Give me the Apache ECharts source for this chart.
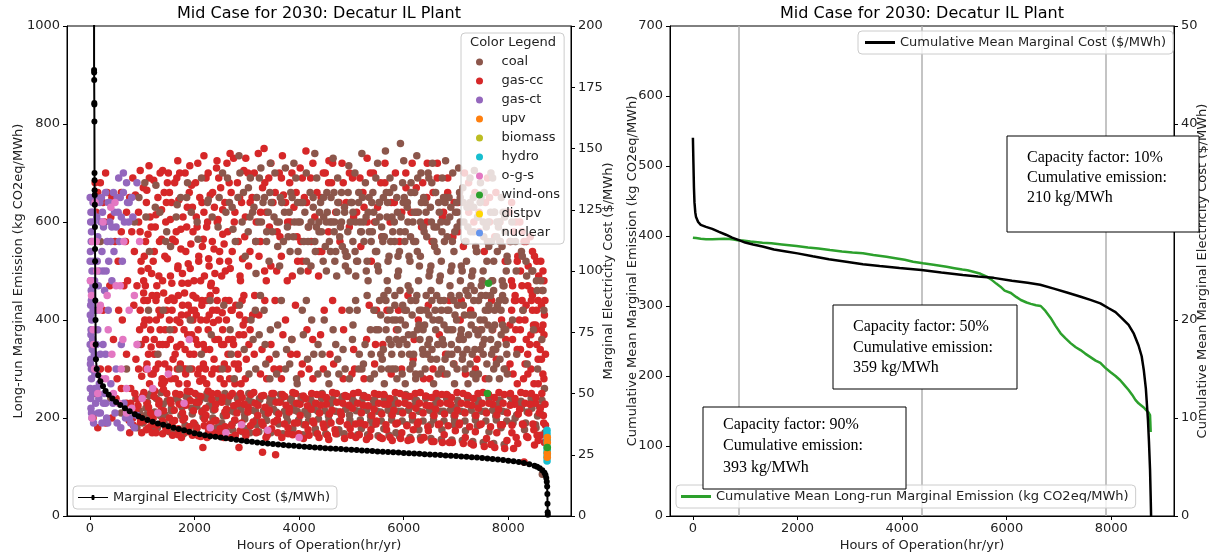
<!DOCTYPE html>
<html><head><meta charset="utf-8">
<script src="https://cdn.jsdelivr.net/npm/echarts@6/dist/echarts.min.js"></script>
<style>html,body{margin:0;padding:0;background:#fff}#c{width:1212px;height:556px}</style>
</head><body><div id="c"></div>
<script>
// ---------- DATA ----------
const hourTicks = [0, 2000, 4000, 6000, 8000];
const titleText = 'Mid Case for 2030: Decatur IL Plant';
const techNames = ['coal','gas-cc','gas-ct','upv','biomass','hydro','o-g-s','wind-ons','distpv','nuclear'];

const gasCC = [
[150,660],[300,700],[250,640],[400,610],[500,650],[600,580],[700,620],[650,470],[550,420],[450,360],[350,300],[600,260],[700,230],[750,195],[500,240],[300,190],[200,300],[100,680],[60,200],[80,250],
[820,690],[870,655],[930,620],[960,580],[850,540],[980,500],[900,470],[840,430],[950,380],[880,320],[990,285],[860,250],[920,225],[970,200],[830,185],[990,170],
[1020,670],[1080,640],[1150,610],[1110,575],[1040,530],[1180,495],[1060,470],[1100,440],[1030,390],[1170,345],[1070,300],[1140,270],[1010,245],[1090,230],[1160,210],[1050,195],[1120,180],[1190,170],
[1220,685],[1300,650],[1370,625],[1250,590],[1330,560],[1210,520],[1390,480],[1280,450],[1350,410],[1230,360],[1310,310],[1380,280],[1240,255],[1320,235],[1360,215],[1210,200],[1280,185],[1390,168],
[1420,660],[1500,700],[1560,640],[1450,600],[1580,565],[1480,525],[1540,490],[1410,455],[1520,400],[1460,350],[1590,320],[1430,275],[1470,250],[1550,230],[1410,215],[1520,200],[1450,180],[1580,165],
[1620,680],[1700,645],[1780,610],[1650,580],[1740,545],[1680,505],[1760,475],[1610,440],[1720,395],[1660,345],[1790,300],[1700,270],[1640,250],[1710,228],[1770,210],[1620,195],[1690,178],[1750,160],
[1820,700],[1900,660],[1960,630],[1850,590],[1930,555],[1880,515],[1990,480],[1810,455],[1940,420],[1870,370],[1990,330],[1830,290],[1860,255],[1920,235],[1980,215],[1810,200],[1900,182],[1960,165],
[2020,680],[2100,650],[2180,620],[2050,590],[2150,550],[2080,520],[2190,490],[2030,445],[2120,400],[2060,350],[2170,310],[2100,275],[2010,250],[2080,232],[2140,212],[2190,198],[2050,180],[2120,162],[2160,140],
[2220,690],[2300,655],[2380,630],[2250,600],[2340,560],[2270,525],[2390,495],[2310,470],[2230,440],[2360,395],[2290,340],[2210,300],[2260,255],[2330,238],[2390,218],[2220,205],[2300,188],[2370,170],[2240,160],
[2420,710],[2500,670],[2580,640],[2450,605],[2540,575],[2480,540],[2590,500],[2410,460],[2530,415],[2460,360],[2570,310],[2440,250],[2520,232],[2580,212],[2410,195],[2490,178],[2560,160],
[2620,720],[2700,660],[2760,600],[2650,520],[2720,420],[2640,330],[2680,245],[2750,225],[2610,205],[2710,185],[2780,165],
[2820,680],[2900,640],[2960,570],[2870,490],[2930,390],[2840,300],[2880,250],[2950,228],[2810,210],[2900,190],[2980,170],[2850,140],
[3020,700],[3100,650],[3180,600],[3060,540],[3150,450],[3040,350],[3080,248],[3160,230],[3020,212],[3120,192],[3190,172],
[3220,740],[3300,670],[3370,620],[3260,560],[3340,500],[3230,410],[3380,280],[3280,245],[3350,222],[3210,205],[3310,185],[3390,165],[3300,130],
[3420,690],[3500,640],[3580,580],[3460,510],[3540,440],[3430,320],[3480,250],[3560,232],[3410,210],[3520,192],[3590,170],[3550,125],
[3620,700],[3700,655],[3780,600],[3660,530],[3740,400],[3630,300],[3680,248],[3750,226],[3610,208],[3720,188],[3790,168],
[3820,680],[3900,630],[3960,570],[3870,490],[3930,430],[3840,330],[3880,252],[3950,230],[3810,212],[3910,190],[3990,168],
[4020,710],[4100,650],[4180,590],[4060,520],[4150,380],[4040,290],[4080,245],[4160,225],[4020,205],[4120,186],[4190,165],
[4220,690],[4300,610],[4380,540],[4260,360],[4240,250],[4320,230],[4390,210],[4280,190],[4350,168],
[4420,650],[4500,700],[4560,580],[4480,420],[4440,248],[4520,228],[4580,208],[4460,188],[4540,165],
[4620,680],[4700,620],[4780,560],[4660,310],[4640,252],[4720,232],[4790,212],[4610,190],[4700,168],
[4820,720],[4900,640],[4960,590],[4850,380],[4880,246],[4950,226],[4810,206],[4920,186],[4990,165],
[5020,690],[5100,620],[5180,550],[5060,300],[5040,250],[5120,230],[5190,210],[5080,188],[5150,166],
[5220,660],[5300,600],[5380,520],[5340,430],[5240,245],[5320,225],[5390,205],[5260,186],[5350,162],
[5420,700],[5500,630],[5580,570],[5460,350],[5440,250],[5520,230],[5580,208],[5470,188],[5550,160],
[5640,680],[5740,600],[5680,420],[5760,290],[5620,248],[5700,228],[5780,206],[5660,186],[5740,160],
[5820,640],[5920,560],[5860,380],[5960,300],[5840,252],[5900,230],[5980,210],[5850,188],[5940,158],
[6040,700],[6140,620],[6080,450],[6180,320],[6020,246],[6100,226],[6170,205],[6060,184],[6140,156],
[6240,670],[6340,590],[6280,400],[6380,280],[6220,250],[6300,230],[6370,210],[6260,188],[6330,155],
[6440,650],[6540,560],[6470,430],[6560,300],[6420,245],[6500,225],[6580,205],[6460,182],[6540,152],
[6640,690],[6740,610],[6680,370],[6770,290],[6620,250],[6700,230],[6780,208],[6660,186],[6740,150],
[6840,660],[6940,570],[6870,440],[6960,310],[6820,248],[6900,228],[6980,206],[6850,184],[6930,150],
[7040,640],[7140,550],[7080,400],[7180,290],[7020,252],[7100,230],[7170,210],[7060,186],[7140,148],
[7240,680],[7340,600],[7280,420],[7370,300],[7220,246],[7300,226],[7380,205],[7260,182],[7330,145],
[7440,620],[7540,540],[7470,380],[7560,280],[7420,250],[7500,230],[7580,210],[7460,186],[7540,142],
[7640,650],[7740,570],[7680,440],[7770,320],[7620,248],[7700,228],[7780,206],[7660,182],[7740,140],
[7840,600],[7940,520],[7870,400],[7960,300],[7820,252],[7900,230],[7980,210],[7850,186],[7930,138],
[8020,620],[8100,580],[8180,530],[8060,480],[8140,440],[8030,390],[8170,340],[8090,290],[8040,250],[8120,228],[8190,208],[8070,185],[8150,160],[8100,138],
[8220,600],[8300,560],[8380,510],[8260,470],[8340,430],[8230,380],[8370,330],[8290,280],[8240,252],[8320,230],[8390,210],[8270,188],[8350,162],[8300,110],
[8420,570],[8500,530],[8580,490],[8460,450],[8540,420],[8430,370],[8570,320],[8490,270],[8440,250],[8520,230],[8590,210],[8470,188],[8550,165],[8500,145],
[8620,520],[8680,480],[8700,440],[8650,460],[8690,410],[8630,380],[8710,330],[8660,290],[8640,250],[8700,228],[8670,205],[8710,185],[8620,165],[8690,150]
];
const gasCCLeft = [[120,620],[200,680],[280,600],[330,660],[420,650],[480,560],[540,520],[600,660],[680,560],[720,480],[760,650],[800,580],[250,420],[380,470],[620,400],[700,330],[780,260],[520,280],[420,200],[150,180],[820,200],[780,230],[880,215],[760,170]];
const gasCCUpper2 = [
[962,705],[931,600],[978,520],[1064,560],[1027,480],[1088,665],[1136,690],[1171,590],[1112,505],[1263,615],[1231,540],[1279,470],[1342,700],[1371,565],[1318,490],[1462,640],[1433,530],[1481,680],[1537,605],[1566,475],[1521,660],[1661,690],[1632,560],[1684,510],[1738,585],[1769,495],[1716,700],[1862,630],[1833,540],[1877,475],[1944,675],[1971,580],[1918,505],[2063,720],[2034,610],[2081,530],[2142,640],[2168,565],[2117,480],[2261,700],[2232,590],[2279,510],[2346,660],[2373,545],[2321,475],[2463,690],[2434,600],[2481,520],[2538,625],[2566,555],[2519,490],[2662,680],[2634,580],[2683,505],[2747,730],[2772,620],[2721,540],[2861,650],[2836,560],[2879,480],[2944,705],[2972,610],[2918,525],
[3063,640],[3034,510],[3142,700],[3171,560],[3261,620],[3233,530],[3344,680],[3372,480],[3461,720],[3432,590],[3543,660],[3571,500],[3662,690],[3634,570],[3741,640],[3773,480],[3862,700],[3831,600],[3943,660],[3972,520],[4061,690],[4033,560],[4142,640],[4171,500],[4263,720],[4231,560],[4341,660],[4372,490],[4462,700],[4433,540],
[4563,680],[4641,720],[4762,640],[4843,680],[4961,700],[5042,610],[5163,690],[5241,630],[5362,700],[5443,600],[5561,680],[5642,720],[5763,640],[5841,700],[5962,620],[6043,670],[6161,720],[6242,620],[6363,680],[6441,600],[6562,660],[6643,720],[6761,620],[6842,690],[6963,640],[7041,580],[7162,700],[7243,620],[7361,660],[7442,580],[7563,640],[7641,600],[7762,660],[7843,560],[7961,620],
[8063,640],[8032,560],[8081,470],[8142,600],[8171,520],[8118,440],[8263,580],[8232,500],[8281,420],[8342,560],[8373,470],[8318,400],[8462,540],[8433,460],[8481,390],[8543,520],[8571,440],[8518,380],[8662,500],[8633,430],[8681,370]
];
const gasCCTop = [[1130,715],[1390,705],[1680,725],[1910,715],[2180,735],[2430,725],[2680,740],[2980,730],[3330,750],[3680,735],[4130,745],[4570,725],[5300,730],[6450,720],[7600,690]];
const gasCCMiddle2 = [
[962,420],[931,300],[1064,360],[1027,455],[1136,400],[1171,290],[1263,440],[1231,330],[1342,380],[1371,270],[1462,420],[1433,310],[1537,360],[1566,445],[1661,400],[1632,280],[1738,350],[1769,430],[1862,410],[1833,300],[1944,370],[1971,450],[2063,290],[2034,410],[2142,440],[2168,350],[2261,380],[2232,270],[2346,420],[2373,320],[2463,300],[2434,440],[2538,380],[2566,270],[2662,440],[2634,300],[2747,350],[2772,270],[2861,410],[2836,310],[2944,450],[2972,280],
[3063,380],[3142,330],[3261,290],[3344,440],[3461,350],[3662,280],[3862,360],[4061,310],[4263,280],[4462,300],[4641,440],[4843,280],[5042,340],[5241,280],[5443,310],
[8063,420],[8032,310],[8142,380],[8171,270],[8263,440],[8232,340],[8342,360],[8373,290],[8462,420],[8433,300],[8543,350],[8571,270],[8662,390],[8633,320]
];
const gasCCMiddle3 = [
[980,350],[1030,440],[1090,310],[1160,380],[1210,290],[1270,400],[1330,350],[1400,270],[1440,380],[1510,300],[1570,420],[1630,330],[1690,450],[1730,310],[1800,380],[1860,270],[1910,330],[1970,400],[2020,360],[2090,300],[2140,430],[2200,340],[2280,410],[2330,290],[2390,360],[2430,420],[2490,280],[2560,350],[2610,400],[2670,280],[2730,360],[2790,430],[2830,330],[2890,270],[2940,370],[2990,320],
[3110,410],[3290,340],[3520,300],[3690,370],[3960,330],[4190,300],[4410,370],[4590,330],[4820,420],[5010,290],[5290,360],[5480,420],
[5600,350],[5900,420],[6200,360],[6500,280],[6800,330],[7100,440],[7400,320],[7700,380],[7950,360],
[8080,360],[8210,400],[8320,310],[8410,350],[8520,390],[8610,340],[8680,280],[8130,450],[8440,440]
];
const gasCCMiddle4 = [[1050,400],[1120,330],[1190,450],[1260,300],[1320,420],[1390,350],[1490,440],[1550,280],[1610,380],[1670,300],[1750,410],[1820,340],[1880,430],[1950,300],[2000,420],[2070,380],[2160,280],[2230,400],[2300,450],[2370,300],[2460,400],[2520,350],[2590,440],[2650,360],[2700,420],[2760,310],[2850,370],[2910,440],[2970,400]];
const gasCCLower2 = [
[915,238],[968,192],[1032,252],[1078,176],[1121,222],[1183,186],[1226,244],[1262,170],[1318,228],[1386,194],[1407,258],[1471,174],[1534,236],[1569,188],[1612,216],[1688,166],[1723,248],[1779,196],[1836,226],[1861,172],[1918,254],[1984,190],[2027,232],[2073,164],[2119,244],[2186,184],[2213,220],[2268,172],[2331,250],[2377,194],[2405,228],[2462,166],[2538,242],[2584,182],[2611,218],[2679,160],[2722,250],[2768,196],[2837,230],[2873,174],[2912,242],[2981,164],[3026,222],[3072,184],[3133,252],[3178,170],[3215,226],[3283,192],[3321,246],[3367,160],[3428,216],[3474,178],[3512,250],[3586,196],[3633,232],[3669,160],[3725,244],[3788,180],[3812,220],[3876,166],[3931,250],[3965,190],[4017,228],[4083,158],[4124,240],[4171,176],[4229,218],[4264,194],[4338,248],[4381,160],[4412,226],[4477,180],[4521,242],[4566,156],[4628,216],[4685,176],[4713,250],[4789,194],[4835,230],[4868,158],[4922,244],[4976,178],[5018,220],[5084,160],[5131,252],[5169,190],[5224,226],[5287,156],[5315,242],[5372,176],[5433,218],[5478,194],[5521,248],[5589,158],[5627,228],[5671,176],[5736,240],[5781,154],[5812,216],[5879,190],[5928,250],[5963,170],[6024,230],[6081,154],[6117,244],[6182,176],[6233,220],[6279,192],[6316,252],[6388,160],[6425,226],[6471,174],[6533,242],[6579,152],[6611,218],[6683,188],[6728,248],[6774,166],[6835,230],[6872,150],[6913,242],[6987,174],[7026,216],[7068,190],[7134,250],[7177,160],[7215,228],[7286,148],[7332,240],[7369,172],[7424,220],[7481,188],[7516,252],[7583,158],[7627,230],[7668,146],[7731,242],[7779,170],[7814,218],[7887,186],[7922,248],[7973,154],[8035,226],[8068,170],[8127,240],[8181,148],[8216,218],[8283,186],[8331,250],[8372,160],[8418,228],[8487,176],[8526,242],[8571,154],[8612,220],[8676,190]
];

const coal = [
[80,650],[200,560],[400,240],[600,210],[700,300],
[850,600],[920,350],[880,240],[950,210],[900,180],
[1050,680],[1120,420],[1070,220],[1130,200],[1170,250],
[1250,630],[1300,330],[1270,240],[1340,205],[1230,175],
[1450,560],[1530,380],[1480,235],[1560,215],[1420,190],
[1650,610],[1710,300],[1680,245],[1740,205],[1630,175],
[1850,650],[1920,400],[1880,240],[1950,220],[1820,185],
[2050,600],[2130,330],[2070,245],[2150,215],[2030,175],
[2250,640],[2320,370],[2280,225],[2350,200],[2230,240],
[2450,590],[2530,300],[2470,240],[2550,205],[2430,180],
[2600,620],[2560,430],[2580,250],[2520,190],[2600,175],
[2630,690],[2720,630],[2780,560],[2680,380],[2760,280],[2640,238],[2700,215],[2770,195],[2730,175],
[2830,650],[2910,600],[2970,530],[2860,430],[2950,340],[2820,240],[2890,218],[2960,198],[2920,172],
[3030,670],[3110,620],[3170,560],[3080,400],[3170,300],[3040,236],[3100,216],[3180,196],[3060,170],
[3240,690],[3310,640],[3380,580],[3260,450],[3350,350],[3250,238],[3320,215],[3380,195],[3230,172],
[3440,660],[3520,610],[3590,550],[3450,380],[3570,290],[3440,240],[3510,218],[3580,196],[3460,170],
[3640,650],[3720,620],[3790,570],[3660,440],[3760,340],[3650,236],[3720,214],[3780,194],[3690,168],
[3840,660],[3910,600],[3980,540],[3860,360],[3950,280],[3850,240],[3920,216],[3990,196],[3870,168],
[4030,640],[4110,620],[4170,560],[4060,420],[4160,320],[4040,236],[4110,214],[4180,194],[4070,166],
[4210,660],[4270,630],[4330,590],[4390,620],[4300,560],[4240,400],[4360,290],[4220,238],[4290,218],[4370,198],[4320,170],
[4410,640],[4470,610],[4530,660],[4590,600],[4500,550],[4440,330],[4570,270],[4430,240],[4490,215],[4570,195],[4510,168],
[4610,650],[4680,600],[4740,640],[4790,590],[4700,540],[4650,380],[4760,290],[4620,236],[4690,214],[4770,194],[4730,168],
[4810,660],[4870,620],[4930,580],[4990,640],[4900,530],[4840,340],[4960,280],[4820,240],[4890,218],[4970,196],[4860,168],
[5010,640],[5080,600],[5140,660],[5190,580],[5100,520],[5030,390],[5150,330],[5020,238],[5090,215],[5170,196],[5120,166],
[5210,650],[5280,610],[5340,580],[5390,640],[5300,520],[5230,310],[5360,280],[5220,240],[5290,216],[5370,195],[5310,166],
[5410,660],[5470,600],[5530,640],[5590,570],[5500,510],[5430,420],[5560,330],[5420,236],[5490,214],[5570,194],[5510,164],
[5610,650],[5680,610],[5730,660],[5790,580],[5700,520],[5620,450],[5690,400],[5760,350],[5710,300],[5630,240],[5700,216],[5770,196],[5720,165],
[5810,670],[5880,620],[5930,580],[5990,640],[5900,500],[5830,430],[5890,380],[5960,330],[5870,280],[5820,238],[5890,214],[5970,194],[5920,162],
[6010,650],[6080,600],[6140,680],[6190,560],[6100,530],[6020,420],[6090,370],[6160,410],[6120,300],[6030,240],[6090,216],[6170,196],[6120,160],
[6210,660],[6280,620],[6330,700],[6390,580],[6300,510],[6230,440],[6290,390],[6360,340],[6320,290],[6220,236],[6290,214],[6370,194],[6320,160],
[6410,640],[6480,690],[6530,600],[6590,550],[6500,500],[6430,420],[6490,360],[6560,400],[6520,320],[6420,240],[6490,216],[6570,196],[6520,158],
[6610,660],[6680,620],[6730,580],[6790,640],[6700,490],[6630,450],[6690,400],[6760,350],[6720,300],[6630,238],[6700,214],[6770,194],[6720,156],
[6810,650],[6880,610],[6930,560],[6990,620],[6900,500],[6830,420],[6890,380],[6960,440],[6920,330],[6820,240],[6890,216],[6970,196],[6920,155],
[7010,640],[7080,600],[7130,670],[7190,560],[7100,510],[7030,430],[7090,370],[7160,410],[7120,320],[7030,236],[7090,214],[7170,194],[7120,154],
[7210,630],[7280,580],[7330,650],[7390,540],[7300,490],[7230,450],[7290,390],[7360,340],[7320,290],[7220,240],[7290,216],[7370,196],[7320,152],
[7410,610],[7480,650],[7530,570],[7590,520],[7500,480],[7430,440],[7490,380],[7560,420],[7520,330],[7420,238],[7490,214],[7570,194],[7520,150],
[7610,600],[7680,560],[7730,620],[7790,540],[7700,480],[7630,430],[7690,380],[7760,340],[7720,300],[7630,240],[7700,216],[7770,196],[7720,148],
[7810,590],[7880,550],[7930,610],[7990,520],[7900,470],[7830,440],[7890,390],[7960,350],[7920,300],[7820,236],[7890,214],[7970,194],[7920,146],
[8050,560],[8150,500],[8080,400],[8160,330],[8060,230],[8130,200],
[8250,540],[8350,490],[8280,420],[8360,310],[8250,220],[8330,190],
[8450,500],[8550,460],[8480,380],[8560,300],[8450,220],[8530,180],
[8620,480],[8680,420],[8640,360],[8690,260],[8610,210],[8650,85]
];
const coalUpper2 = [
[937,650],[1071,610],[1138,540],[1262,675],[1337,620],[1468,580],[1542,550],[1669,635],[1735,650],[1866,680],[1938,620],[2067,565],[2134,690],[2263,645],[2338,610],[2471,650],[2536,700],[2667,640],[2735,585],[2868,700],[2936,660],
[3068,690],[3027,580],[3137,630],[3176,495],[3269,710],[3228,600],[3338,650],[3377,560],[3467,640],[3426,520],[3537,700],[3578,600],[3668,640],[3627,510],[3737,710],[3776,590],[3866,650],[3827,540],[3937,690],[3978,600],[4068,640],[4027,500],[4137,700],[4176,590],[4268,650],[4227,510],[4337,690],[4378,600],[4468,650],[4427,580],
[4537,620],[4578,560],[4521,500],[4667,660],[4628,600],[4683,520],[4737,690],[4776,570],[4718,490],[4867,630],[4826,550],[4884,510],[4937,660],[4978,600],[4919,530],[5067,700],[5028,560],[5083,490],[5137,640],[5176,580],[5118,520],[5267,680],[5228,600],[5284,500],[5337,650],[5378,560],[5319,480],[5467,690],[5426,620],[5483,540],[5537,640],[5578,590],[5518,500],[5667,660],[5628,570],[5684,480],[5737,690],[5776,610],[5719,530],[5867,650],[5826,560],[5883,490],[5937,760],[5978,680],[5918,540],[6067,630],[6028,580],[6084,470],[6137,660],[6176,600],[6119,520],[6267,690],[6228,560],[6283,480],[6337,640],[6378,590],[6318,530],[6467,700],[6426,620],[6484,490],[6537,680],[6576,560],[6519,510],[6667,640],[6628,590],[6683,480],[6737,690],[6778,560],[6718,520],[6867,650],[6826,600],[6884,470],[6937,700],[6976,580],[6919,510],[7067,660],[7028,620],[7083,480],[7137,640],[7178,560],[7118,500],[7267,690],[7226,590],[7284,470],[7337,630],[7376,550],[7319,500],[7467,680],[7428,610],[7483,470],[7537,660],[7578,590],[7518,500],[7667,700],[7626,550],[7684,480],[7737,620],[7776,570],[7719,460],[7867,650],[7828,600],[7883,480],[7937,580],[7976,530],[7918,470],
[8067,600],[8137,560],[8267,530],[8337,520],[8467,500],[8537,480],[8663,460]
];
const coalTop = [[3900,720],[4300,740],[4650,730],[4950,715],[5200,740],[5500,720],[5650,745],[6000,725],[6250,735],[6550,720],[6800,725],[7050,710],[7350,705],[7700,690],[2850,735],[3450,720]];
const coalFill = [
[4020,600],[4090,560],[4140,520],[4230,600],[4310,540],[4380,580],[4460,520],[4520,600],[4600,540],[4670,580],[4720,620],[4810,600],[4880,540],[4940,500],[5030,620],[5070,540],[5160,600],[5240,560],[5320,620],[5400,580],[5460,540],[5540,610],[5600,560],[5690,640],[5750,560],[5820,600],[5890,530],[5950,610],[6020,560],[6070,640],[6130,570],[6200,620],[6260,540],[6320,600],[6380,650],[6440,570],[6510,630],[6580,590],[6640,540],[6710,600],[6760,650],[6830,570],[6900,630],[6960,540],[7020,590],[7080,650],[7150,600],[7200,520],[7270,640],[7340,580],[7400,540],[7460,640],[7520,600],[7600,560],[7660,620],[7720,520],[7780,600],[7840,560],[7900,620],[7960,500],
[5020,360],[5110,420],[5200,300],[5300,450],[5380,330],[5470,380],[5560,410],[5610,340],[5700,460],[5780,300],[5850,400],[5930,460],[5990,360],[6050,420],[6120,460],[6190,330],[6250,450],[6310,360],[6400,390],[6450,330],[6520,460],[6600,420],[6650,350],[6700,440],[6770,390],[6850,330],[6900,450],[6950,310],[7010,400],[7060,360],[7130,330],[7190,460],[7240,370],[7310,330],[7350,460],[7420,370],[7480,450],[7540,360],[7610,390],[7660,450],[7710,340],[7790,430],[7840,320],[7890,450],[7950,380],
[3060,610],[3190,650],[3280,600],[3410,620],[3490,580],[3620,600],[3700,560],[3810,620],[3890,570],[3970,640]
];
const coalMiddle2 = [
[3041,290],[3163,420],[3237,370],[3362,310],[3441,280],[3558,330],[3741,300],[3963,270],[4138,440],[4362,350],[4541,290],[4738,320],[4962,420],[5141,300],[5362,380],
[5538,440],[5571,300],[5662,380],[5629,270],[5738,420],[5771,330],[5862,360],[5829,450],[5938,400],[5971,290],[6062,350],[6029,270],[6138,440],[6171,310],[6262,380],[6229,280],[6338,420],[6371,330],[6462,350],[6429,450],[6538,440],[6571,270],[6662,400],[6629,320],[6738,360],[6771,440],[6862,420],[6829,290],[6938,380],[6971,270],[7062,450],[7029,340],[7138,360],[7171,300],[7262,410],[7229,270],[7338,440],[7371,380],[7462,340],[7429,290],[7538,400],[7571,450],[7662,360],[7629,280],[7738,420],[7771,310],[7862,370],[7829,280],[7938,440],[7971,330]
];
const coalMiddle3 = [
[5520,380],[5590,320],[5660,440],[5720,360],[5790,400],[5840,300],[5910,350],[5980,430],[6030,390],[6110,330],[6180,370],[6230,290],[6300,420],[6370,380],[6410,300],[6480,410],[6540,340],[6610,380],[6660,290],[6720,420],[6790,320],[6830,380],[6910,350],[6980,410],[7020,300],[7100,380],[7140,430],[7210,340],[7270,310],[7330,410],[7380,280],[7460,400],[7510,350],[7590,310],[7620,420],[7680,330],[7740,390],[7800,350],[7860,420],[7920,380],[7980,290],
[3120,360],[3330,420],[3590,390],[3820,310],[4080,370],[4280,330],[4480,400],[4700,350],[4880,300],[5080,440],[5260,350],[5440,290],
[1400,420],[1900,300],[2300,440],[2700,330]
];
const coalLower2 = [
[942,215],[1064,205],[1137,246],[1241,212],[1363,252],[1439,206],[1558,220],[1646,240],[1762,222],[1839,244],[1957,208],[2041,224],[2163,202],[2238,250],[2361,216],[2447,242],[2556,204],[2634,232],[2761,212],[2842,246],[2958,206],[3038,250],[3166,214],[3241,240],[3359,206],[3437,230],[3564,212],[3643,248],[3759,204],[3838,236],[3962,214],[4036,244],[4163,206],[4244,232],[4357,214],[4439,250],[4561,204],[4642,238],[4758,212],[4837,244],[4963,206],[5041,234],[5162,214],[5236,246],[5364,204],[5441,236],[5557,212],[5638,244],[5763,206],[5842,232],[5958,214],[6039,248],[6161,204],[6243,236],[6357,212],[6438,244],[6566,206],[6642,234],[6759,214],[6838,246],[6961,204],[7043,232],[7157,212],[7239,244],[7363,206],[7442,232],[7561,214],[7637,244],[7758,204],[7843,236],[7964,212],[8038,244],[8159,206],[8241,234],[8362,212],[8437,240],[8558,204],[8643,236]
];
const coalLower3 = [
[1010,190],[1290,180],[1520,172],[1790,168],[2010,186],[2270,176],[2490,168],[2720,188],[2990,178],[3190,186],[3390,174],[3610,188],[3880,178],[4090,186],[4310,178],[4530,186],[4760,176],[4990,188],[5190,178],[5410,186],[5620,178],[5850,170],[6060,186],[6290,176],[6510,186],[6730,176],[6960,186],[7180,174],[7410,184],[7630,172],[7860,180],[8090,190],[8310,176],[8520,186],[8700,170],
[1100,232],[1400,228],[1700,232],[2100,236],[2400,228],[2800,226],[3100,232],[3500,238],[3900,226],[4200,222],[4600,228],[5000,222],[5400,224],[5800,226],[6200,224],[6600,228],[7000,222],[7400,226],[7800,226],[8200,230],[8600,222]
];

const gasCT = [
[20,620],[30,580],[10,540],[40,500],[25,460],[15,430],[35,400],[20,370],[45,340],[10,310],[30,280],[50,250],[20,220],[40,200],
[60,640],[70,600],[80,560],[65,520],[90,480],[75,440],[85,330],[95,290],[100,260],[110,230],[70,190],
[130,610],[150,570],[140,520],[160,470],[120,300],[180,270],[170,240],[200,210],
[220,650],[240,620],[260,590],[230,540],[250,500],[280,460],[300,230],[320,200],[340,190],[280,250],
[350,640],[380,600],[400,560],[360,520],[420,480],[450,660],[470,620],[500,590],[460,540],[480,210],[520,190],
[550,690],[580,650],[600,610],[560,560],[620,520],[650,230],[680,200],[700,680],[720,640],[740,600],[760,200],
[800,650],[820,610],[850,180],[900,205],[400,270],[500,300],[600,350],[150,380],[250,350],[350,420],[300,330],
[5,650],[15,600],[25,560],[5,520],[12,480],[28,440],[8,410],[22,380],[5,350],[18,320],[28,300],[8,260],[16,240],[30,210],[55,620],[58,470],[62,420],[52,360],[48,300],[110,650],[105,560],[115,420],[125,350],[135,260],[160,210],[190,640],[210,600],[180,500],[200,330],[230,190],[260,230],[300,660],[330,560],[310,500],[380,640],[420,590],[440,230],[520,650],[540,620],[590,180],[640,660],[660,600],[750,640],[780,190],[640,700],[900,680]
];
const ogs = [
[30,450],[60,380],[90,300],[120,560],[150,250],[200,430],[250,600],[300,280],[350,380],[400,630],[450,250],[500,470],
[550,230],[600,300],[650,560],[700,260],[750,420],[800,220],[900,350],[1000,240],[1100,300],[1300,210],[1500,290],
[1800,230],[1900,360],[2300,180],[2600,170],[2900,186],[3400,175],[4000,160],[100,640],[40,200],
[10,480],[50,560],[70,350],[130,500],[180,420],[220,280],[330,450],[420,330],[480,640],[580,470],[630,360],[700,210],[850,450],[950,560],[1200,260]
];
const hydro = [[8740,175],[8740,168],[8740,160],[8740,150],[8740,140],[8740,130],[8740,120],[8740,112],[8745,155],[8745,135],[8745,125]];
const upv = [[8745,160],[8745,150],[8745,128],[8745,120]];
const windOns = [[8745,140],[7600,250],[7620,475]];
const biomass = [];
const distpv = [];
const nuclear = [];

// Marginal electricity cost ($/MWh) vs hours (left panel, right axis)
const marginalCost = [
[78,262],[80,182],[81,181],[82,178],[84,168.6],[85,168],[86,161],[88,140],[89,137],[90,133],[92,131],[94,127],[96,118],[98,109],[100,104],[102,94],[104,88],[107,80],[110,70],[115,64],[130,60],[160,57.5],[200,55],[250,53],[300,51],[360,49.5],[430,48],[500,46.5],[580,45.3],[670,44],[760,42.8],[860,41.5],[930,40.7],
[1000,40],[1100,39.2],[1200,38.5],[1300,37.8],[1400,37.2],[1500,36.6],[1600,36.0],[1700,35.5],[1800,35.0],[1900,34.4],[2000,33.8],[2100,33.4],[2200,33.0],[2300,32.6],[2400,32.3],[2500,32.0],[2600,31.7],[2700,31.4],[2800,31.1],[2900,30.8],[3000,30.5],[3100,30.3],[3200,30.0],[3300,29.8],[3400,29.6],[3500,29.4],[3600,29.2],[3700,29.0],[3800,28.8],[3900,28.7],[4000,28.5],[4100,28.3],[4200,28.2],[4300,28.0],[4400,27.9],[4500,27.7],[4600,27.6],[4700,27.4],[4800,27.3],[4900,27.1],[5000,27.0],[5100,26.9],[5200,26.7],[5300,26.6],[5400,26.5],[5500,26.3],[5600,26.2],[5700,26.1],[5800,26.0],[5900,25.9],[6000,25.7],[6100,25.6],[6200,25.5],[6300,25.4],[6400,25.2],[6500,25.1],[6600,25.0],[6700,24.9],[6800,24.7],[6900,24.6],[7000,24.5],[7100,24.3],[7200,24.2],[7300,24.0],[7400,23.9],[7500,23.7],[7600,23.5],[7700,23.3],[7800,23.1],[7900,22.9],[8000,22.6],[8100,22.3],[8200,22.0],[8300,21.6],[8400,21.1],[8500,20.5],[8550,20.1],[8600,19.5],[8650,18.7],[8690,17.7],[8710,16.7],[8725,15.5],[8735,14],[8742,12],[8746,9],[8749,5],[8752,1.5],[8755,0.5]
];

// Right panel: cumulative means
const cumCost = [
[0,38.6],[10,36],[20,33.5],[30,32],[45,31],[60,30.5],[100,30],[150,29.7],[250,29.5],[370,29.3],[500,29],[632,28.7],[750,28.4],[855,28.2],[1000,27.9],[1150,27.7],[1330,27.5],[1550,27.2],[1780,27],[2000,26.8],[2290,26.5],[2600,26.2],[2930,25.95],[3250,25.7],[3570,25.5],[3950,25.3],[4370,25.1],[4750,24.85],[5160,24.6],[5450,24.45],[5750,24.3],[6100,24.0],[6400,23.8],[6640,23.6],[6900,23.2],[7150,22.8],[7400,22.4],[7600,22.05],[7790,21.7],[7950,21.2],[8080,20.8],[8200,20.2],[8330,19.5],[8430,18.6],[8520,17.4],[8580,16.3],[8620,14.9],[8660,13],[8700,9.8],[8720,7.5],[8740,4.7],[8752,2],[8760,0]
];
const cumEmission = [
[0,397.6],[60,397],[150,396],[250,395.5],[370,395.2],[500,395.8],[600,396],[700,395.7],[780,395],[855,394],[950,393.5],[1100,392],[1330,390.5],[1500,389.5],[1700,388],[1980,385.7],[2200,383.5],[2400,382],[2620,380],[2850,378],[3050,376.5],[3250,375.2],[3450,373],[3700,370.5],[3900,368],[4050,366],[4210,363.3],[4400,361],[4600,359],[4850,356],[5000,354],[5150,352],[5250,351],[5360,349],[5500,346],[5620,342],[5700,338],[5800,332],[5880,327.6],[5960,322],[6080,318.6],[6180,313],[6270,308.6],[6380,305],[6460,303],[6560,301],[6650,300],[6740,293],[6840,283],[6930,272],[7030,261],[7120,254],[7220,247],[7320,241],[7410,237],[7500,232],[7600,227],[7700,222],[7790,218.6],[7880,212],[7980,205.7],[8080,200],[8170,194],[8250,187],[8330,180],[8400,173],[8460,166],[8520,161],[8560,158.6],[8620,155],[8670,151],[8710,148],[8740,144],[8745,135],[8750,125],[8752,120]
];
const capacityHours = [876, 4380, 7884];
const boxTexts = [
  'Capacity factor: 10%\nCumulative emission:\n210 kg/MWh',
  'Capacity factor: 50%\nCumulative emission:\n359 kg/MWh',
  'Capacity factor: 90%\nCumulative emission:\n393 kg/MWh'
];

// ---------- CHART ----------
const FONT = 'DejaVu Sans';
const techColors = {'coal':'#8c564b','gas-cc':'#d62728','gas-ct':'#9467bd','upv':'#ff7f0e','biomass':'#bcbd22','hydro':'#17becf','o-g-s':'#e377c2','wind-ons':'#2ca02c','distpv':'#ffd700','nuclear':'#6495ed'};
const coalAll = coal.concat(coalUpper2, coalTop, coalFill, coalMiddle2, coalMiddle3, coalLower2, coalLower3);
const gasCCAll = gasCC.concat(gasCCLeft, gasCCUpper2, gasCCTop, gasCCMiddle2, gasCCMiddle3, gasCCMiddle4, gasCCLower2);
// draw layers (same legend name, split only for stacking order)
const layers = [
  ['coal', coalAll.filter(p => p[1] < 262)],
  ['gas-cc', gasCCAll],
  ['coal', coalAll.filter(p => p[1] >= 262)],
  ['gas-ct', gasCT], ['o-g-s', ogs], ['biomass', biomass], ['hydro', hydro],
  ['upv', upv], ['wind-ons', windOns], ['distpv', distpv], ['nuclear', nuclear]
];

const chart = echarts.init(document.getElementById('c'), null, {renderer:'canvas'});

function xAx(gi){
  return {type:'value', gridIndex:gi, min:-438, max:9198,
    name:'Hours of Operation(hr/yr)', nameLocation:'middle', nameGap:23, nameMoveOverlap:false,
    nameTextStyle:{fontFamily:FONT, fontSize:13, color:'#222'},
    axisLine:{show:true, onZero:false, lineStyle:{color:'#000', width:1}},
    axisTick:{show:true, length:4, customValues:hourTicks, lineStyle:{color:'#000'}},
    axisLabel:{customValues:hourTicks, formatter:v => String(v), fontFamily:FONT, fontSize:13, color:'#222', margin:6},
    splitLine:{show:false}};
}
function yAx(gi, pos, max, interval, name, gap){
  return {type:'value', gridIndex:gi, position:pos, min:0, max:max, interval:interval,
    name:name, nameLocation:'middle', nameGap:gap, nameRotate:90, nameMoveOverlap:false,
    nameTextStyle:{fontFamily:FONT, fontSize:13, color:'#222'},
    axisLine:{show:true, onZero:false, lineStyle:{color:'#000', width:1}},
    axisTick:{show:true, length:4, lineStyle:{color:'#000'}},
    axisLabel:{formatter:v => String(v), fontFamily:FONT, fontSize:13, color:'#222', margin:7},
    splitLine:{show:false}};
}

const series = layers.map(([n, d]) => ({
  name:n, type:'scatter', xAxisIndex:0, yAxisIndex:0, data:d,
  symbol:'circle', symbolSize:7.5, itemStyle:{color:techColors[n], opacity:1}, clip:true, z:2
}));
series.push({
  name:'Marginal Electricity Cost ($/MWh)', type:'line', xAxisIndex:0, yAxisIndex:1,
  data:marginalCost, symbol:'circle', symbolSize:6, showSymbol:true, showAllSymbol:true,
  lineStyle:{color:'#000', width:2}, itemStyle:{color:'#000'}, clip:true, z:5
});
series.push({
  name:'Cumulative Mean Long-run Marginal Emission (kg CO2eq/MWh)', type:'line', xAxisIndex:1, yAxisIndex:2,
  data:cumEmission, symbol:'none', lineStyle:{color:'#2ca02c', width:2.5}, itemStyle:{color:'#2ca02c'}, z:4,
  markLine:{silent:true, symbol:['none','none'], label:{show:false},
    lineStyle:{color:'#b0b0b0', width:1.5, type:'solid'},
    data:capacityHours.map(h => ({xAxis:h})), z:1}
});
series.push({
  name:'Cumulative Mean Marginal Cost ($/MWh)', type:'line', xAxisIndex:1, yAxisIndex:3,
  data:cumCost, symbol:'none', lineStyle:{color:'#000', width:2.5}, itemStyle:{color:'#000'}, z:5
});

const legendBase = {backgroundColor:'rgba(255,255,255,0.8)', borderColor:'#cccccc', borderWidth:1, borderRadius:4,
  textStyle:{fontFamily:FONT, fontSize:13, color:'#222'}, selectedMode:false, z:10};
const lineDotIcon = 'path://M0,3.4L13.5,3.4L13.5,2.2L14.2,1.5L15.8,1.5L16.5,2.2L16.5,3.4L30,3.4L30,4.6L16.5,4.6L16.5,5.8L15.8,6.5L14.2,6.5L13.5,5.8L13.5,4.6L0,4.6Z';

const boxes = [
  {x:1007, y:136, w:192, h:96, tx:1027, ty:148, lh:20},
  {x:833, y:305, w:184, h:84, tx:853, ty:317, lh:20.5},
  {x:703, y:407, w:203, h:82, tx:723, ty:414, lh:21.5}
];
const graphic = [];
boxes.forEach((b,i) => {
  graphic.push({type:'rect', shape:{x:b.x, y:b.y, width:b.w, height:b.h}, style:{fill:'#fff', stroke:'#000', lineWidth:1}, z:50});
  graphic.push({type:'text', x:b.tx, y:b.ty, style:{text:boxTexts[i], fontFamily:'Liberation Serif', fontSize:16, lineHeight:b.lh, fill:'#000'}, z:51});
});
graphic.push({type:'text', x:513, y:43, style:{text:'Color Legend', fontFamily:FONT, fontSize:13, fill:'#222', align:'center', verticalAlign:'middle'}, z:60});

chart.setOption({
  animation:false,
  backgroundColor:'#fff',
  title:[
    {text:titleText, left:319, top:6, textAlign:'center', padding:0, textStyle:{fontFamily:FONT, fontSize:16, fontWeight:'normal', color:'#000'}},
    {text:titleText, left:922, top:6, textAlign:'center', padding:0, textStyle:{fontFamily:FONT, fontSize:16, fontWeight:'normal', color:'#000'}}
  ],
  grid:[
    {left:67, top:26, width:504, height:490, show:true, borderColor:'#000', borderWidth:1, backgroundColor:'transparent', outerBoundsMode:'none', containLabel:false},
    {left:670, top:26, width:504, height:490, show:true, borderColor:'#000', borderWidth:1, backgroundColor:'transparent', outerBoundsMode:'none', containLabel:false}
  ],
  xAxis:[xAx(0), xAx(1)],
  yAxis:[
    yAx(0,'left',1000,200,'Long-run Marginal Emission (kg CO2eq/MWh)',42),
    yAx(0,'right',200,25,'Marginal Electricity Cost ($/MWh)',31),
    yAx(1,'left',700,100,'Cumulative Mean Marginal Emission (kg CO2eq/MWh)',31),
    yAx(1,'right',50,10,'Cumulative Mean Marginal Electricity Cost ($/MWh)',22)
  ],
  legend:[
    Object.assign({}, legendBase, {data:techNames.map(n=>({name:n, icon:'circle'})), orient:'vertical', left:461, top:33,
      padding:[21,4,3,15], itemWidth:34, itemHeight:7, itemGap:3, textStyle:{fontFamily:FONT, fontSize:13, color:'#222', lineHeight:16}}),
    Object.assign({}, legendBase, {data:[{name:'Marginal Electricity Cost ($/MWh)', icon:lineDotIcon}], left:73, top:486, padding:[5,7,5,5], itemWidth:30, itemHeight:5}),
    Object.assign({}, legendBase, {data:[{name:'Cumulative Mean Marginal Cost ($/MWh)', icon:'rect'}], left:858, top:31, padding:[5,7,5,7], itemWidth:30, itemHeight:3}),
    Object.assign({}, legendBase, {data:[{name:'Cumulative Mean Long-run Marginal Emission (kg CO2eq/MWh)', icon:'rect'}], left:676, top:485, padding:[5,7,5,5], itemWidth:30, itemHeight:3})
  ],
  graphic:graphic,
  series:series
});
</script>
</body></html>
